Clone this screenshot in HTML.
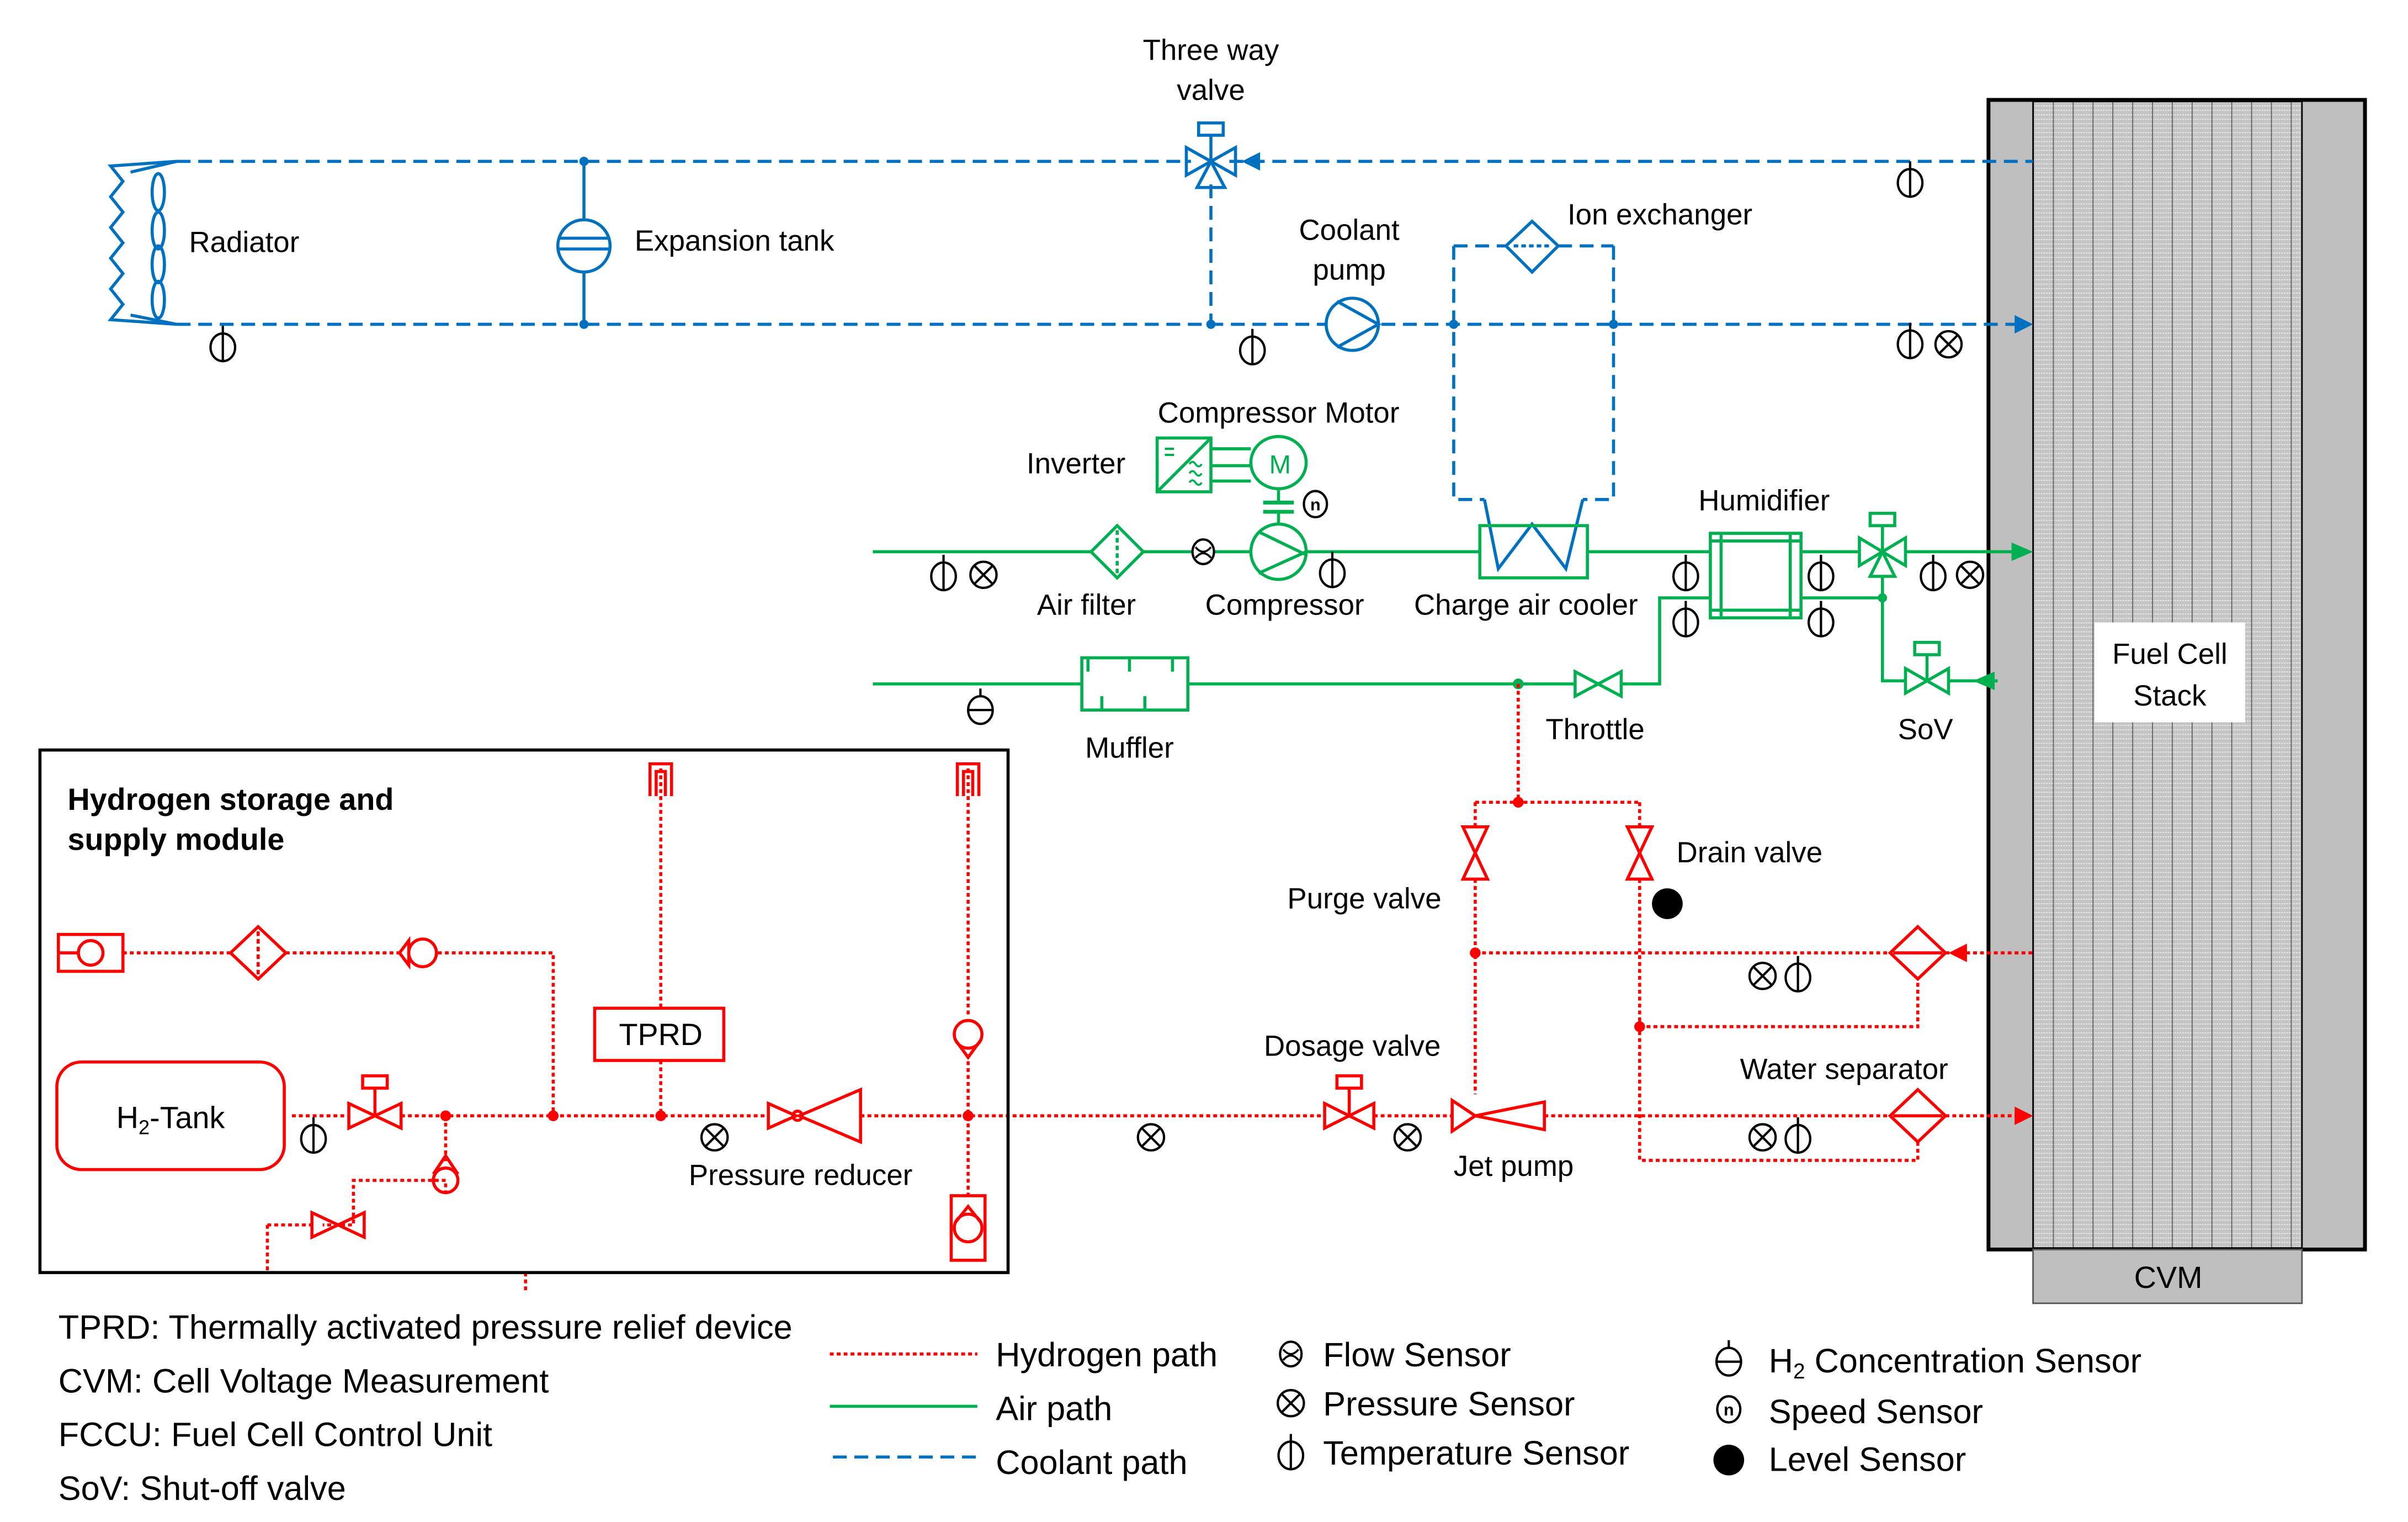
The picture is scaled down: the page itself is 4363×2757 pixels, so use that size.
<!DOCTYPE html>
<html><head><meta charset="utf-8"><style>
html,body{margin:0;padding:0;background:#fff}
svg{display:block}
text{font-family:"Liberation Sans",sans-serif;fill:#000}
</style></head><body>
<svg width="4363" height="2757" viewBox="0 0 1567 990.3" preserveAspectRatio="none" xmlns="http://www.w3.org/2000/svg">
<defs>
<pattern id="hp" width="12.9" height="2.9" patternUnits="userSpaceOnUse" x="1323" y="65">
<rect width="12.9" height="2.9" fill="#c4c4c4"/>
<line x1="0" y1="1" x2="12.9" y2="1" stroke="#f2f2f2" stroke-width="0.6" stroke-dasharray="1 0.7"/>
<rect x="0" y="0" width="0.6" height="2.9" fill="#555"/>
</pattern>
<symbol id="ts" viewBox="-10 -16 20 30" overflow="visible"><ellipse cx="0" cy="0" rx="8" ry="9" fill="#fff" stroke="#000" stroke-width="1.5"/><line x1="0" y1="-14" x2="0" y2="9" stroke="#000" stroke-width="1.5"/></symbol>
<symbol id="ps" viewBox="-10 -10 20 20" overflow="visible"><circle r="8.5" fill="#fff" stroke="#000" stroke-width="1.5"/><path d="M-6,-6L6,6M6,-6L-6,6" stroke="#000" stroke-width="1.5"/></symbol>
<symbol id="hs" viewBox="-10 -16 20 30" overflow="visible"><ellipse rx="8" ry="9" fill="#fff" stroke="#000" stroke-width="1.5"/><line x1="-8" y1="0" x2="8" y2="0" stroke="#000" stroke-width="1.5"/><line x1="0" y1="-14" x2="0" y2="-9" stroke="#000" stroke-width="1.5"/></symbol>
<symbol id="fs" viewBox="-10 -10 20 20" overflow="visible"><ellipse rx="7" ry="8" fill="#fff" stroke="#000" stroke-width="1.5"/><path d="M-5,-3Q0,3 5,-3M-5,4Q0,-2 5,4" fill="none" stroke="#000" stroke-width="1.3"/></symbol>
<symbol id="ss" viewBox="-10 -10 20 20" overflow="visible"><ellipse rx="7.5" ry="8.5" fill="#fff" stroke="#000" stroke-width="1.5"/><text x="0" y="4" font-size="11" text-anchor="middle" font-weight="bold">n</text></symbol>
</defs>

<rect x="1294" y="65" width="245" height="748" fill="#bfbfbf" stroke="#000" stroke-width="2.5"/>
<rect x="1323" y="66" width="175" height="746" fill="url(#hp)" stroke="#000" stroke-width="1"/>
<rect x="1323" y="813" width="175" height="35" fill="#bfbfbf" stroke="#555" stroke-width="1"/>
<text x="1411" y="838" font-size="20" text-anchor="middle">CVM</text>
<rect x="1363" y="405" width="98" height="65" fill="#fff"/>
<text x="1412" y="432" font-size="19" text-anchor="middle">Fuel Cell</text>
<text x="1412" y="459" font-size="19" text-anchor="middle">Stack</text>

<g stroke="#0070C0" stroke-width="2" fill="none">
<path d="M115,105H775M800,105H1323" stroke-dasharray="9 5"/>
<path d="M115,211H1313" stroke-dasharray="9 5"/>
<path d="M788,120V211" stroke-dasharray="9 5"/>
<path d="M946,160V325H966M1050,160V325H1030M946,160H980M1014,160H1050" stroke-dasharray="9 5"/>
<path d="M380,105V143M380,177V211"/>
<circle cx="380" cy="160" r="17"/>
<path d="M364,155H396M364,162H396"/>
<path d="M115,105L72,108L80,118L72,128L80,138L72,148L80,158L72,168L80,178L72,188L80,198L72,208L115,211"/>
<path d="M115,105L85,112M115,211L85,205"/>
<g fill="none"><ellipse cx="103" cy="125" rx="4" ry="12"/><ellipse cx="103" cy="150" rx="4" ry="12"/><ellipse cx="103" cy="172" rx="4" ry="12"/><ellipse cx="103" cy="195" rx="4" ry="12"/></g>
<path d="M772,96V114L804,96V114Z M788,105L779,122H797Z"/>
<path d="M788,105V88"/><rect x="780" y="80" width="16" height="8"/>
<circle cx="880" cy="211" r="17" fill="#fff"/>
<path d="M870,196L897,211L870,226"/>
<path d="M997,144L1014,160L997,177L980,160Z" fill="#fff"/>
<path d="M985,160H1009" stroke-dasharray="3 2"/>
<path d="M966,325L975,370L997,341L1019,370L1030,325"/>
</g>
<g fill="#0070C0">
<path d="M808,105L820,99V111Z"/>
<path d="M1323,211L1311,205V217Z"/>
<circle cx="380" cy="105" r="3"/><circle cx="380" cy="211" r="3"/><circle cx="788" cy="211" r="3"/>
<circle cx="946" cy="211" r="3"/><circle cx="1050" cy="211" r="3"/>
</g>

<g stroke="#00B050" stroke-width="2" fill="none">
<path d="M568,359H710M744,359H814M850,359H963M1033,359H1113M1172,359H1210M1240,359H1313"/>
<path d="M568,445H704M773,445H1025M1055,445H1080V389H1113"/>
<path d="M1172,389H1225V443H1240M1268,443H1300"/>
<path d="M1225,375V389"/>
<path d="M727,342L744,359L727,376L710,359Z"/><path d="M727,345V373" stroke-dasharray="3 2"/>
<ellipse cx="832" cy="359" rx="18" ry="18"/><path d="M819,346L850,361M819,373L850,359"/>
<path d="M832,319V327M832,333V341"/><path d="M822,327H842M822,333H842" stroke-width="2.5"/>
<ellipse cx="832" cy="301" rx="18" ry="17"/>
<rect x="753" y="285" width="35" height="35"/><path d="M753,320L788,285M788,292H814M788,303H814M788,313H814"/>
<path d="M758,292H764M758,296H764" stroke-width="1.5"/>
<path d="M774,302q2,-3 4,0t4,0M774,308q2,-3 4,0t4,0M774,314q2,-3 4,0t4,0" stroke-width="1.3"/>
<rect x="963" y="342" width="70" height="34"/>
<rect x="1113" y="347" width="59" height="55"/><path d="M1120,347V402M1165,347V402M1113,352H1172M1113,397H1172"/>
<rect x="704" y="428" width="69" height="34"/><path d="M708,428V437M735,428V437M763,428V437M717,462V453M745,462V453"/>
<path d="M1025,437V453L1055,437V453Z"/>
<path d="M1210,350V368L1240,350V368Z M1225,359L1217,375H1233Z"/><path d="M1225,359V342"/><rect x="1217" y="334" width="16" height="8"/>
<path d="M1240,435V451L1268,435V451Z"/><path d="M1254,443V426"/><rect x="1246" y="418" width="16" height="8"/>
</g>
<text x="833" y="308" font-size="17" text-anchor="middle" style="fill:#00B050">M</text>
<g fill="#00B050">
<path d="M1323,359L1309,353V365Z"/>
<path d="M1284,443L1298,437V449Z"/>
<circle cx="988" cy="445" r="3.5"/><circle cx="1225" cy="389" r="3"/>
</g>

<g stroke="#FF0000" stroke-width="2" fill="none" stroke-dasharray="2.5 2">
<path d="M988,445V522M960,522H1067M960,522V538M1067,522V538M960,572V712M1067,572V755H1248V742"/>
<path d="M960,620H1230M1067,668H1248V637M1266,620H1323"/>
<path d="M190,726H227M261,726H500M560,726H862M894,726H945M1005,726H1230M1266,726H1313"/>
<path d="M80,620H150M186,620H260M285,620H360V726"/>
<path d="M430,500V656M430,690V726"/>
<path d="M630,500V660M630,686V778"/>
<path d="M290,726V757M290,777V768H230V797H210V797M174,797V828M174,797H203"/>
<path d="M342,828V840"/>
</g>
<g stroke="#FF0000" stroke-width="2" fill="none">
<path d="M952,538H968L952,572H968Z"/><path d="M1059,538H1075L1059,572H1075Z"/>
<path d="M1248,603L1266,620L1248,637L1230,620Z"/><path d="M1232,620H1264"/>
<path d="M1248,709L1266,726L1248,743L1230,726Z"/><path d="M1232,726H1264"/>
<path d="M862,718V734L894,718V734Z"/><path d="M878,726V708"/><rect x="870" y="700" width="16" height="8"/>
<path d="M945,716L960,726L945,736Z M960,726L1005,717V735Z"/>
<path d="M227,718V734L261,718V734Z"/><path d="M244,726V708"/><rect x="236" y="700" width="16" height="8"/>
<path d="M203,789V805L237,789V805Z"/>
<circle cx="290" cy="768" r="8"/><path d="M282,764L290,752L298,764"/>
<path d="M500,718V734L518,726Z M520,726L560,709V743Z"/><circle cx="519" cy="726" r="3"/>
<rect x="38" y="608" width="42" height="24"/><circle cx="59" cy="620" r="8"/><path d="M38,620H51"/>
<path d="M168,603L186,620L168,637L150,620Z"/><path d="M168,606V634" stroke-dasharray="3 2"/>
<circle cx="275" cy="620" r="9"/><path d="M260,620L266,612V628Z"/>
<circle cx="630" cy="673" r="9"/><path d="M622,677L630,688L638,677"/>
<rect x="619" y="778" width="22" height="42"/><circle cx="630" cy="799" r="9"/><path d="M622,795L630,785L638,795"/>
<path d="M423,518V497H437V518M427,518V502H433V518"/>
<path d="M623,518V497H637V518M627,518V502H633V518"/>
<rect x="387" y="656" width="84" height="34"/>
<rect x="37" y="691" width="148" height="70" rx="16"/>
</g>
<g fill="#FF0000">
<path d="M1323,726L1311,720V732Z"/><path d="M1268,620L1280,614V626Z"/>
<circle cx="988" cy="522" r="3.5"/><circle cx="960" cy="620" r="3.5"/><circle cx="1067" cy="668" r="3.5"/>
<circle cx="290" cy="726" r="3.5"/><circle cx="360" cy="726" r="3.5"/><circle cx="430" cy="726" r="3.5"/><circle cx="630" cy="726" r="3.5"/>
</g>
<text x="430" y="680" font-size="20" text-anchor="middle">TPRD</text>
<text x="111" y="734" font-size="20" text-anchor="middle">H<tspan font-size="13" dy="4">2</tspan><tspan dy="-4">-Tank</tspan></text>

<rect x="26" y="488" width="630" height="340" fill="none" stroke="#000" stroke-width="2"/>
<text x="44" y="527" font-size="20" font-weight="bold">Hydrogen storage and</text>
<text x="44" y="553" font-size="20" font-weight="bold">supply module</text>

<circle cx="1085" cy="588" r="10" fill="#000"/>

<use href="#ts" x="135" y="210" width="20" height="30"/>
<use href="#ts" x="805" y="212" width="20" height="30"/>
<use href="#ts" x="1233" y="103" width="20" height="30"/>
<use href="#ts" x="1233" y="208" width="20" height="30"/>
<use href="#ps" x="1258" y="214" width="20" height="20"/>
<use href="#ts" x="604" y="359" width="20" height="30"/>
<use href="#ps" x="630" y="364" width="20" height="20"/>
<use href="#fs" x="773" y="349" width="20" height="20"/>
<use href="#ss" x="846" y="318" width="20" height="20"/>
<use href="#ts" x="857" y="357" width="20" height="30"/>
<use href="#ts" x="1087" y="359" width="20" height="30"/>
<use href="#ts" x="1087" y="389" width="20" height="30"/>
<use href="#ts" x="1175" y="359" width="20" height="30"/>
<use href="#ts" x="1175" y="389" width="20" height="30"/>
<use href="#ts" x="1248" y="359" width="20" height="30"/>
<use href="#ps" x="1272" y="364" width="20" height="20"/>
<use href="#hs" x="628" y="446" width="20" height="30"/>
<use href="#ps" x="1137" y="625" width="20" height="20"/>
<use href="#ts" x="1160" y="620" width="20" height="30"/>
<use href="#ps" x="1137" y="730" width="20" height="20"/>
<use href="#ts" x="1160" y="725" width="20" height="30"/>
<use href="#ps" x="906" y="730" width="20" height="20"/>
<use href="#ps" x="739" y="730" width="20" height="20"/>
<use href="#ps" x="455" y="730" width="20" height="20"/>
<use href="#ts" x="194" y="725" width="20" height="30"/>

<g font-size="19">
<text x="788" y="39" text-anchor="middle">Three way</text>
<text x="788" y="65" text-anchor="middle">valve</text>
<text x="123" y="164">Radiator</text>
<text x="413" y="163">Expansion tank</text>
<text x="878" y="156" text-anchor="middle">Coolant</text>
<text x="878" y="182" text-anchor="middle">pump</text>
<text x="1020" y="146">Ion exchanger</text>
<text x="832" y="275" text-anchor="middle">Compressor Motor</text>
<text x="668" y="308">Inverter</text>
<text x="1148" y="332" text-anchor="middle">Humidifier</text>
<text x="707" y="400" text-anchor="middle">Air filter</text>
<text x="836" y="400" text-anchor="middle">Compressor</text>
<text x="993" y="400" text-anchor="middle">Charge air cooler</text>
<text x="1038" y="481" text-anchor="middle">Throttle</text>
<text x="1253" y="481" text-anchor="middle">SoV</text>
<text x="735" y="493" text-anchor="middle">Muffler</text>
<text x="1091" y="561">Drain valve</text>
<text x="938" y="591" text-anchor="end">Purge valve</text>
<text x="880" y="687" text-anchor="middle">Dosage valve</text>
<text x="1200" y="702" text-anchor="middle">Water separator</text>
<text x="521" y="771" text-anchor="middle">Pressure reducer</text>
<text x="985" y="765" text-anchor="middle">Jet pump</text>
</g>

<g font-size="22">
<text x="38" y="871">TPRD: Thermally activated pressure relief device</text>
<text x="38" y="906">CVM: Cell Voltage Measurement</text>
<text x="38" y="941">FCCU: Fuel Cell Control Unit</text>
<text x="38" y="976">SoV: Shut-off valve</text>
<text x="648" y="889">Hydrogen path</text>
<text x="648" y="924">Air path</text>
<text x="648" y="959">Coolant path</text>
<text x="861" y="889">Flow Sensor</text>
<text x="861" y="921">Pressure Sensor</text>
<text x="861" y="953">Temperature Sensor</text>
<text x="1151" y="893">H<tspan font-size="14" dy="4">2</tspan><tspan dy="-4"> Concentration Sensor</tspan></text>
<text x="1151" y="926">Speed Sensor</text>
<text x="1151" y="957">Level Sensor</text>
</g>
<path d="M540,881H636" stroke="#FF0000" stroke-width="2" stroke-dasharray="2.5 2"/>
<path d="M540,915H636" stroke="#00B050" stroke-width="2"/>
<path d="M542,948H640" stroke="#0070C0" stroke-width="2" stroke-dasharray="9 5"/>
<use href="#fs" x="830" y="871" width="20" height="20"/>
<use href="#ps" x="830" y="903" width="20" height="20"/>
<use href="#ts" x="830" y="931" width="20" height="30"/>
<use href="#hs" x="1115" y="870" width="20" height="30"/>
<use href="#ss" x="1115" y="907" width="20" height="20"/>
<circle cx="1125" cy="950" r="10" fill="#000"/>
</svg>
</body></html>
